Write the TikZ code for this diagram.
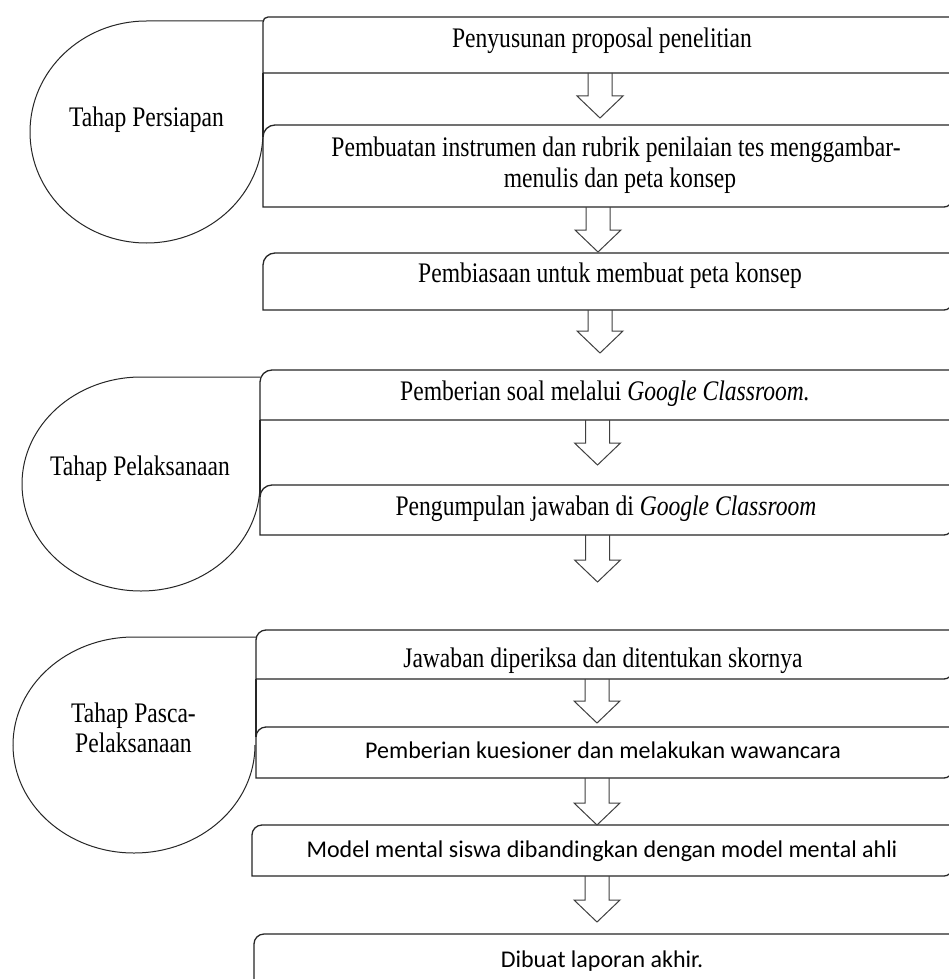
\documentclass[tikz,border=0pt]{standalone}
\usepackage{fontspec}
\setmainfont{Liberation Serif}[FakeStretch=0.833]
\newfontfamily\calib{Carlito}
\usetikzlibrary{calc}
\tikzset{
  boxline/.style={line width=1.3pt, draw=black!85},
  ovalline/.style={line width=1pt, draw=black!85},
  arrowline/.style={line width=1pt, draw=black!75, line join=miter},
  serif/.style={font=\fontsize{28.3}{29}\selectfont, inner sep=0pt, anchor=base},
  sans/.style={font=\calib\fontsize{24}{28}\selectfont, inner sep=0pt, anchor=base},
}
% #1 left, #2 top, #3 bottom, #4 top-left radius, #5 bottom-right radius
\newcommand\flowbox[5]{%
  \draw[boxline] (#1,#3) -- (#1,#2+#4) arc[start angle=180,end angle=90,radius=#4 pt]
    -- (952,#2) -- (952,#3-#5) arc[start angle=0,end angle=-90,radius=#5 pt] -- cycle;}
% hollow block arrow from named coordinate #1 (start) to #2 (tip)
\newcommand\hollowarrow[2]{%
  \draw[arrowline] let \p1=(#1), \p2=(#2) in
    (\x1-12pt,\y1) -- (\x1-12pt,\y2+22pt) -- (\x1-23pt,\y2+22pt) -- (\x1,\y2)
    -- (\x1+23pt,\y2+22pt) -- (\x1+12pt,\y2+22pt) -- (\x1+12pt,\y1);}
\begin{document}
\begin{tikzpicture}[x=1pt,y=-1pt]
\useasboundingbox (0,0) rectangle (949,979);
\fill[white] (0,0) rectangle (949,979);
\clip (0,0) rectangle (949,979);

% ---- stage ovals
\draw[ovalline] (263,21) -- (146.5,21) arc[start angle=90,end angle=360,x radius=116.5pt,y radius=111pt];
\draw[ovalline] (260,377) -- (141,377) arc[start angle=90,end angle=360,x radius=119pt,y radius=107pt];
\draw[ovalline] (256,637) -- (134,637) arc[start angle=90,end angle=360,x radius=121pt,y radius=108pt];

\node[serif] (s1) at (146.5,127) {Tahap Persiapan};
\node[serif] (s2) at (140,475) {Tahap Pelaksanaan};
\node[serif] (s3a) at (133.5,722) {Tahap Pasca-};
\node[serif] (s3b) at (133.5,752) {Pelaksanaan};

% ---- boxes
\flowbox{263}{17}{73}{5}{0.1}
\flowbox{263}{125}{207}{12}{8}
\draw[boxline] (263,73) -- (263,137);
\flowbox{263}{253}{310}{12}{8}

\flowbox{260}{370}{420}{12}{0.1}
\flowbox{260}{485}{535}{12}{8}
\draw[boxline] (260,420) -- (260,497);

\flowbox{256}{630}{679}{10}{8}
\flowbox{256}{727}{778}{10}{8}
\draw[boxline] (256,679) -- (256,737);

\flowbox{252}{825}{876}{10}{8}
\flowbox{254}{934}{995}{10}{0.1}

% ---- texts
\node[serif] (t1) at (602,48) {Penyusunan proposal penelitian};
\node[serif] (t2a) at (616,157) {Pembuatan instrumen dan rubrik penilaian tes menggambar-};
\node[serif] (t2b) at (620,187) {menulis dan peta konsep};
\node[serif] (t3) at (610,282) {Pembiasaan untuk membuat peta konsep};
\node[serif] (t4) at (605,400) {Pemberian soal melalui \textit{Google Classroom.}};
\node[serif] (t5) at (606,515) {Pengumpulan jawaban di \textit{Google Classroom}};
\node[serif] (t6) at (603,667) {Jawaban diperiksa dan ditentukan skornya};
\node[sans] (t7) at (603,758) {Pemberian kuesioner dan melakukan wawancara};
\node[sans] (t8) at (602,857) {Model mental siswa dibandingkan dengan model mental ahli};
\node[sans] (t9) at (602,967) {Dibuat laporan akhir.};

% ---- arrow end points
\coordinate (a1s) at (600,73);  \coordinate (a1e) at (600,118);
\coordinate (a2s) at (598,207); \coordinate (a2e) at (598,252);
\coordinate (a3s) at (600,310); \coordinate (a3e) at (600,353);
\coordinate (a4s) at (597.5,420); \coordinate (a4e) at (597.5,465);
\coordinate (a5s) at (597.5,535); \coordinate (a5e) at (597.5,582);
\coordinate (a6s) at (597,679); \coordinate (a6e) at (597,723);
\coordinate (a7s) at (597,778); \coordinate (a7e) at (597,825);
\coordinate (a8s) at (597,876); \coordinate (a8e) at (597,922);
\hollowarrow{a1s}{a1e}
\hollowarrow{a2s}{a2e}
\hollowarrow{a3s}{a3e}
\hollowarrow{a4s}{a4e}
\hollowarrow{a5s}{a5e}
\hollowarrow{a6s}{a6e}
\hollowarrow{a7s}{a7e}
\hollowarrow{a8s}{a8e}
\end{tikzpicture}
\end{document}
